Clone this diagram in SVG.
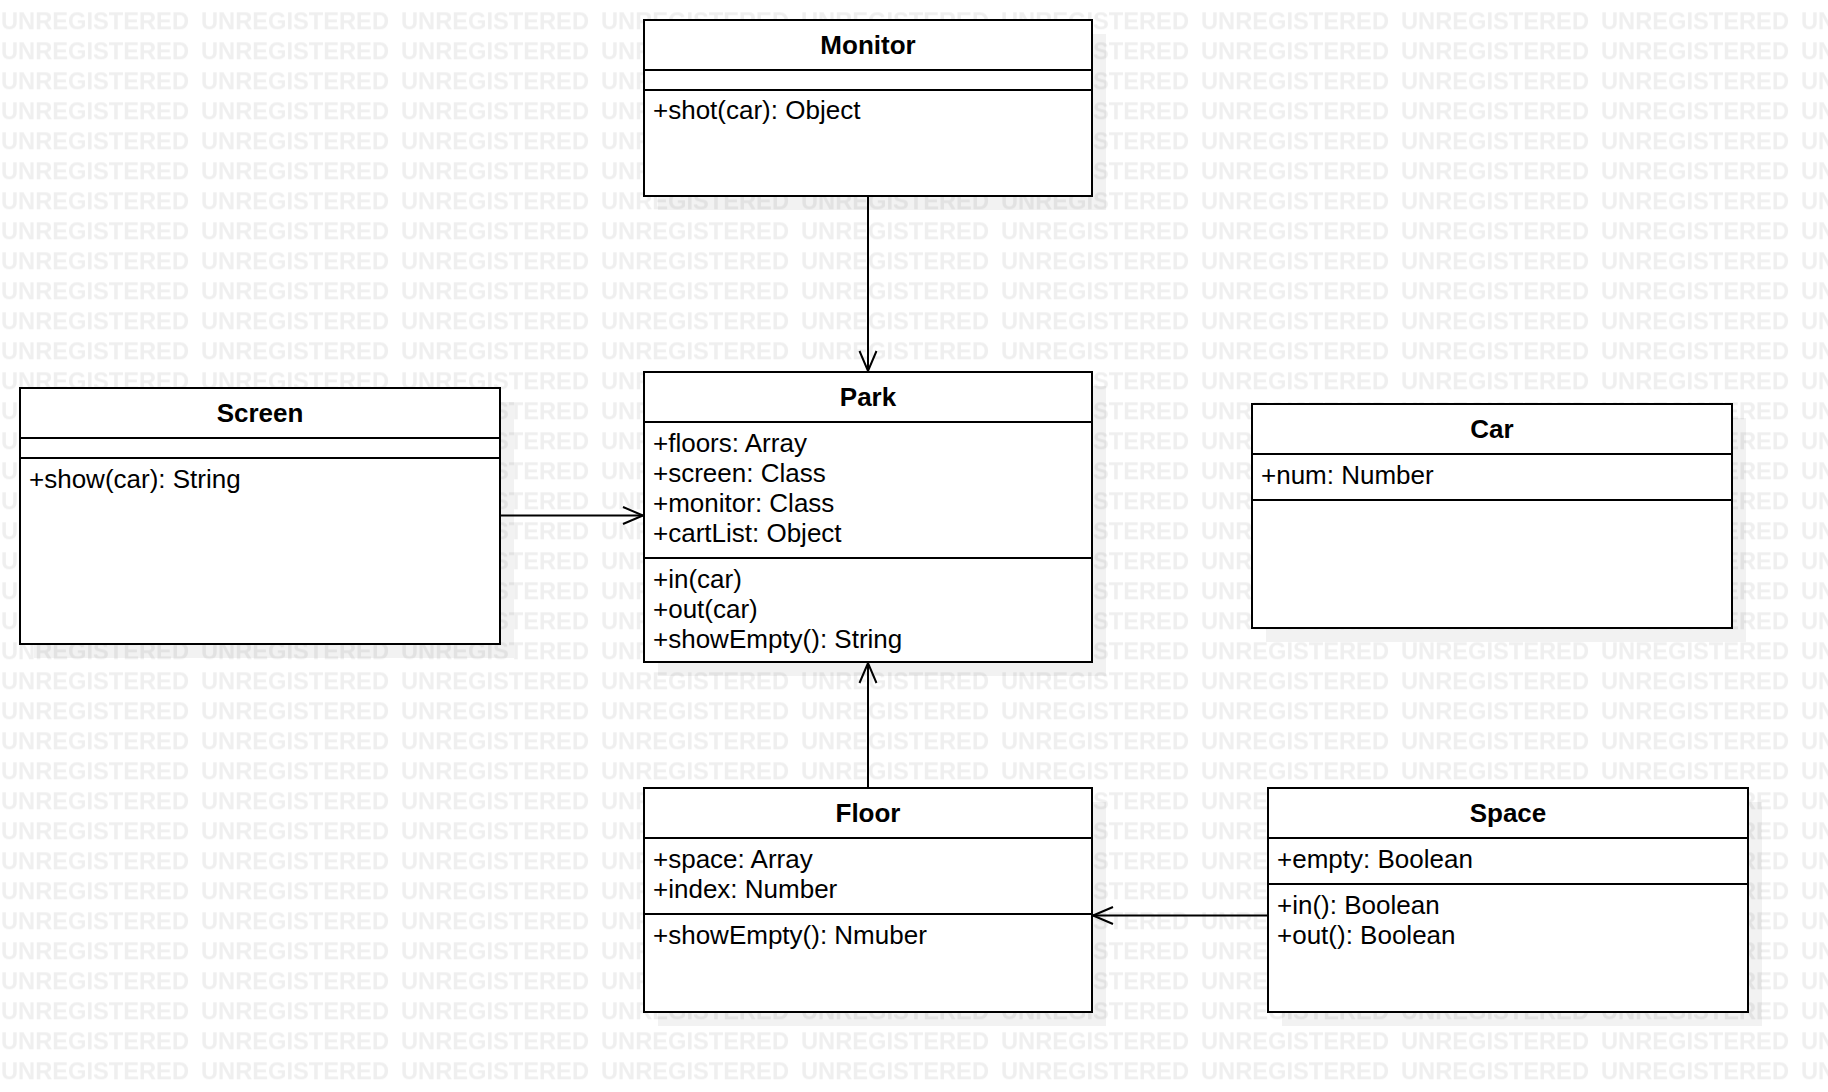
<svg xmlns="http://www.w3.org/2000/svg" width="1828" height="1092" viewBox="0 0 1828 1092">
<style>
.box{fill:#ffffff;stroke:#000000;stroke-width:2}
.sep{stroke:#000000;stroke-width:2}
.shadow{fill:#000000;fill-opacity:0.05}
.title{font-family:"Liberation Sans",Arial,sans-serif;font-size:26px;font-weight:bold;fill:#000000;text-anchor:middle}
.mem{font-family:"Liberation Sans",Arial,sans-serif;font-size:26px;fill:#000000}
.wm{font-family:"Liberation Sans",Arial,sans-serif;font-size:23.7px;font-weight:bold;fill:#efefef}
.conn{stroke:#000000;stroke-width:2;fill:none}
</style>
<defs>
<pattern id="wmPat" patternUnits="userSpaceOnUse" x="0" y="0.3" width="200" height="30">
<text class="wm" x="1" y="29" textLength="188" lengthAdjust="spacingAndGlyphs">UNREGISTERED</text>
</pattern>
<marker id="open" markerUnits="userSpaceOnUse" markerWidth="26" markerHeight="26" viewBox="-23 -13 26 26" refX="0" refY="0" orient="auto">
<path d="M -20 -8.5 L 0 0 L -20 8.5" fill="none" stroke="#000000" stroke-width="2"/>
</marker>
</defs>
<rect x="0" y="0" width="1828" height="1092" fill="#ffffff"/>
<rect x="0" y="0" width="1828" height="1092" fill="url(#wmPat)"/>

<g id="connectors">
<line class="conn" x1="868" y1="196" x2="868" y2="371" marker-end="url(#open)"/>
<line class="conn" x1="500" y1="515.5" x2="643" y2="515.5" marker-end="url(#open)"/>
<line class="conn" x1="868" y1="788" x2="868" y2="663" marker-end="url(#open)"/>
<line class="conn" x1="1268" y1="915.5" x2="1093" y2="915.5" marker-end="url(#open)"/>
</g>

<g id="Monitor">
<rect class="shadow" x="658" y="34" width="448" height="176"/>
<rect class="box" x="644" y="20" width="448" height="176"/>
<line class="sep" x1="644" y1="70" x2="1092" y2="70"/>
<line class="sep" x1="644" y1="90" x2="1092" y2="90"/>
<text class="title" x="868" y="54">Monitor</text>
<text class="mem" x="653" y="119">+shot(car): Object</text>
</g>

<g id="Park">
<rect class="shadow" x="658" y="386" width="448" height="290"/>
<rect class="box" x="644" y="372" width="448" height="290"/>
<line class="sep" x1="644" y1="422" x2="1092" y2="422"/>
<line class="sep" x1="644" y1="558" x2="1092" y2="558"/>
<text class="title" x="868" y="406">Park</text>
<text class="mem" x="653" y="452">+floors: Array</text>
<text class="mem" x="653" y="482">+screen: Class</text>
<text class="mem" x="653" y="512">+monitor: Class</text>
<text class="mem" x="653" y="542">+cartList: Object</text>
<text class="mem" x="653" y="588">+in(car)</text>
<text class="mem" x="653" y="618">+out(car)</text>
<text class="mem" x="653" y="647.5">+showEmpty(): String</text>
</g>

<g id="Screen">
<rect class="shadow" x="34" y="402" width="480" height="256"/>
<rect class="box" x="20" y="388" width="480" height="256"/>
<line class="sep" x1="20" y1="438" x2="500" y2="438"/>
<line class="sep" x1="20" y1="458" x2="500" y2="458"/>
<text class="title" x="260" y="422">Screen</text>
<text class="mem" x="29" y="487.5">+show(car): String</text>
</g>

<g id="Car">
<rect class="shadow" x="1266" y="418" width="480" height="224"/>
<rect class="box" x="1252" y="404" width="480" height="224"/>
<line class="sep" x1="1252" y1="454" x2="1732" y2="454"/>
<line class="sep" x1="1252" y1="500" x2="1732" y2="500"/>
<text class="title" x="1492" y="438">Car</text>
<text class="mem" x="1261" y="483.5">+num: Number</text>
</g>

<g id="Floor">
<rect class="shadow" x="658" y="802" width="448" height="224"/>
<rect class="box" x="644" y="788" width="448" height="224"/>
<line class="sep" x1="644" y1="838" x2="1092" y2="838"/>
<line class="sep" x1="644" y1="914" x2="1092" y2="914"/>
<text class="title" x="868" y="822">Floor</text>
<text class="mem" x="653" y="868">+space: Array</text>
<text class="mem" x="653" y="898">+index: Number</text>
<text class="mem" x="653" y="943.5">+showEmpty(): Nmuber</text>
</g>

<g id="Space">
<rect class="shadow" x="1282" y="802" width="480" height="224"/>
<rect class="box" x="1268" y="788" width="480" height="224"/>
<line class="sep" x1="1268" y1="838" x2="1748" y2="838"/>
<line class="sep" x1="1268" y1="884" x2="1748" y2="884"/>
<text class="title" x="1508" y="822">Space</text>
<text class="mem" x="1277" y="867.5">+empty: Boolean</text>
<text class="mem" x="1277" y="913.5">+in(): Boolean</text>
<text class="mem" x="1277" y="943.5">+out(): Boolean</text>
</g>
</svg>
